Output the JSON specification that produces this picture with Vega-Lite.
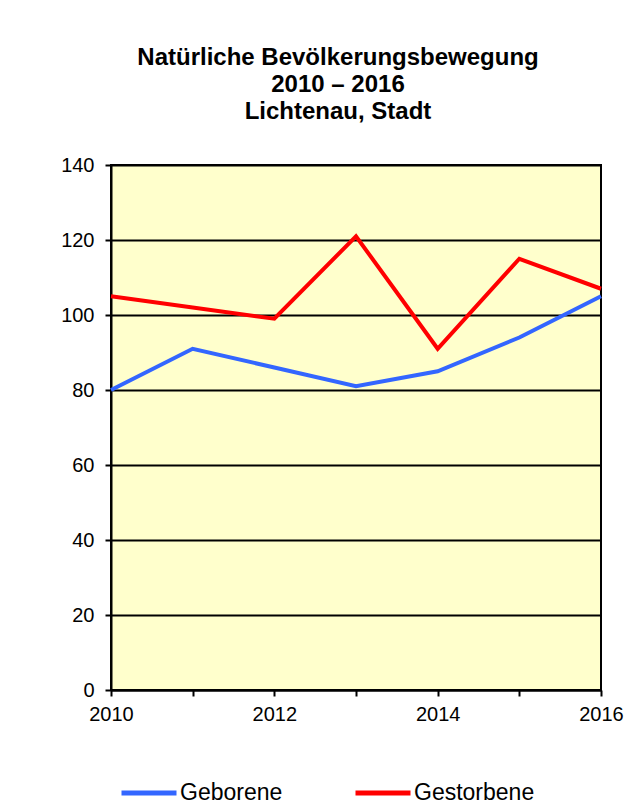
{
  "$schema": "https://vega.github.io/schema/vega-lite/v6.json",
  "autosize": {"type": "none"},
  "width": 490,
  "height": 525,
  "padding": {"left": 111, "top": 165, "right": 37, "bottom": 122},
  "background": "white",
  "config": {
    "font": "Liberation Sans",
    "view": {"fill": "#FFFFCC", "stroke": "black", "strokeWidth": 2}
  },
  "title": {
    "text": ["Natürliche Bevölkerungsbewegung", "2010 – 2016", "Lichtenau, Stadt"],
    "fontSize": 24,
    "fontWeight": "bold",
    "color": "black",
    "lineHeight": 27,
    "anchor": "middle",
    "frame": "group",
    "dx": -18,
    "offset": 31
  },
  "data": {
    "values": [
      {"Jahr": 2010, "Serie": "Geborene", "Wert": 80},
      {"Jahr": 2011, "Serie": "Geborene", "Wert": 91},
      {"Jahr": 2012, "Serie": "Geborene", "Wert": 86},
      {"Jahr": 2013, "Serie": "Geborene", "Wert": 81},
      {"Jahr": 2014, "Serie": "Geborene", "Wert": 85},
      {"Jahr": 2015, "Serie": "Geborene", "Wert": 94},
      {"Jahr": 2016, "Serie": "Geborene", "Wert": 105},
      {"Jahr": 2010, "Serie": "Gestorbene", "Wert": 105},
      {"Jahr": 2011, "Serie": "Gestorbene", "Wert": 102},
      {"Jahr": 2012, "Serie": "Gestorbene", "Wert": 99},
      {"Jahr": 2013, "Serie": "Gestorbene", "Wert": 121},
      {"Jahr": 2014, "Serie": "Gestorbene", "Wert": 91},
      {"Jahr": 2015, "Serie": "Gestorbene", "Wert": 115},
      {"Jahr": 2016, "Serie": "Gestorbene", "Wert": 107}
    ]
  },
  "mark": {"type": "line", "strokeWidth": 4, "strokeJoin": "miter"},
  "encoding": {
    "x": {
      "field": "Jahr",
      "type": "quantitative",
      "scale": {"domain": [2010, 2016], "nice": false, "zero": false},
      "axis": {
        "title": null,
        "values": [2010, 2011, 2012, 2013, 2014, 2015, 2016],
        "format": "d",
        "labelExpr": "datum.value % 2 == 0 ? datum.label : ''",
        "grid": false,
        "domainColor": "black",
        "domainWidth": 2,
        "tickColor": "black",
        "tickWidth": 2,
        "tickSize": 6,
        "labelFontSize": 20,
        "labelColor": "black",
        "labelPadding": 8,
        "labelFlush": false,
        "labelOverlap": false
      }
    },
    "y": {
      "field": "Wert",
      "type": "quantitative",
      "scale": {"domain": [0, 140], "nice": false},
      "axis": {
        "title": null,
        "values": [0, 20, 40, 60, 80, 100, 120, 140],
        "grid": true,
        "gridColor": "black",
        "gridWidth": 2,
        "gridOpacity": 1,
        "domainColor": "black",
        "domainWidth": 2,
        "tickColor": "black",
        "tickWidth": 2,
        "tickSize": 6,
        "labelFontSize": 20,
        "labelColor": "black",
        "labelPadding": 11
      }
    },
    "color": {
      "field": "Serie",
      "type": "nominal",
      "scale": {"domain": ["Geborene", "Gestorbene"], "range": ["#3366FF", "#FF0000"]},
      "legend": {
        "title": null,
        "orient": "none",
        "legendX": 8,
        "legendY": 598,
        "direction": "horizontal",
        "symbolType": "stroke",
        "symbolSize": 3025,
        "symbolStrokeWidth": 5,
        "labelFontSize": 23,
        "labelColor": "black",
        "labelOffset": 1,
        "columnPadding": 62
      }
    }
  }
}
